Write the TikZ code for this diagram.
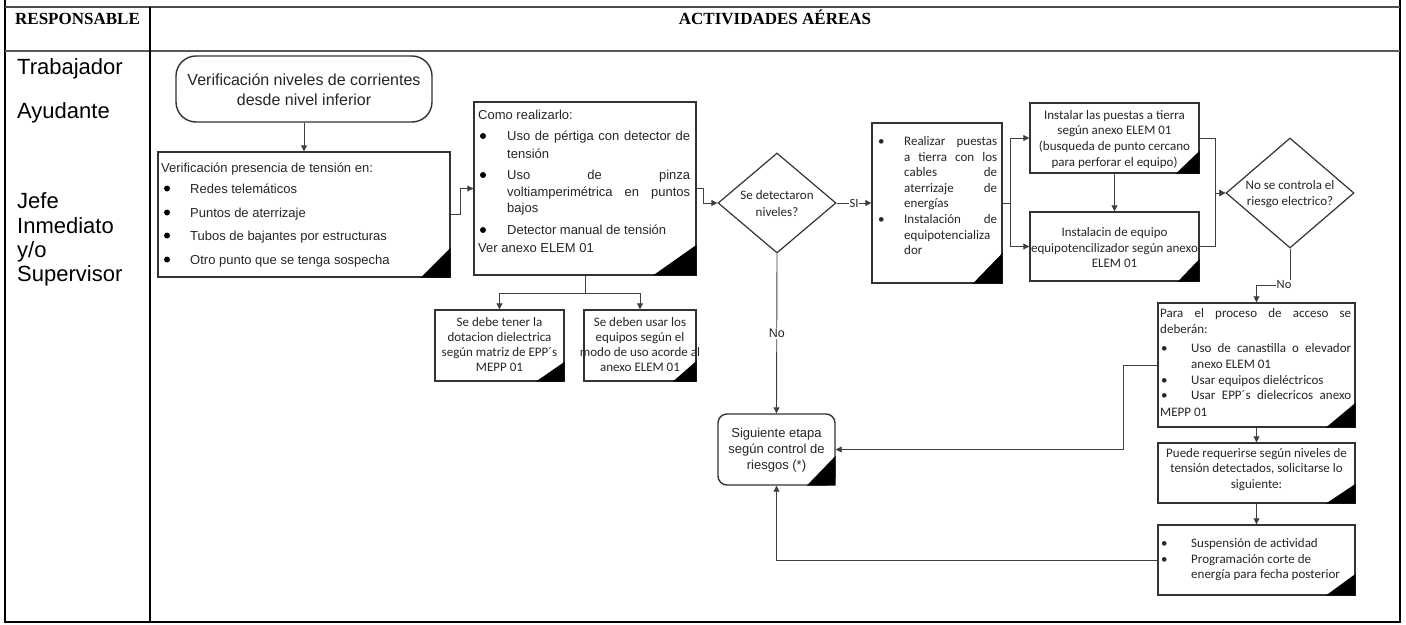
\documentclass[tikz,border=0pt]{standalone}
\usepackage{fontspec}
\setmainfont{Liberation Sans}
\newfontfamily\arialf{Liberation Sans}
\newfontfamily\calf{Carlito}
\newfontfamily\headf{Liberation Serif}
\usetikzlibrary{arrows.meta,shapes.geometric}

% a line stretched to a given width (justified text)
\newcommand{\jline}[2]{\makebox[#1pt][s]{#2}}
% black corner triangle in the lower right of a box
\newcommand{\ctri}[3]{\fill[black] (#1.south east) -- ++(-#2,0) -- ++(#2,-#3) -- cycle;}

\begin{document}
\begin{tikzpicture}[x=1pt,y=-1pt,
  box/.style={draw=black!80, line width=1.4pt, fill=white, inner sep=0pt, rectangle},
  dia/.style={draw=black!80, line width=1.2pt, fill=white, inner sep=0pt, diamond},
  arr/.style={draw=black!75, line width=0.9pt, -{Triangle[length=6pt,width=6pt]}},
  conn/.style={draw=black!75, line width=0.9pt},
  lbl/.style={fill=white, inner sep=1pt, text=black!85, font=\calf\fontsize{12.5}{14}\selectfont},
  albl/.style={fill=white, inner sep=1pt, text=black!85, font=\arialf\fontsize{12.5}{14}\selectfont},
  bul/.style={circle, fill=black, inner sep=0pt, minimum size=6pt},
  ar/.style={inner sep=0pt, text=black!85, font=\arialf\fontsize{13}{15}\selectfont},
  ca/.style={inner sep=0pt, text=black!85, font=\calf\fontsize{13}{15}\selectfont},
  role/.style={inner sep=0pt, anchor=base west, font=\arialf\fontsize{22}{24}\selectfont},
  head/.style={inner sep=0pt, anchor=base, font=\headf\bfseries\fontsize{17}{20}\selectfont}]
\useasboundingbox (0,0) rectangle (1406,624);

% ---- table frame ----
\draw[line width=1.3pt] (5,0) -- (5,622) -- (1400,622) -- (1400,0);
\draw[line width=1.5pt, black!70] (5,7) -- (1400,7);
\draw[line width=2pt, black!65] (5,51) -- (1400,51);
\draw[line width=1.3pt] (150,7) -- (150,622);

\node[head] (hresp) at (77.5,24) {RESPONSABLE};
\node[head] (hact) at (775,24) {ACTIVIDADES AÉREAS};

% ---- responsible roles ----
\node[role] (rtrab) at (17,74) {Trabajador};
\node[role] (rayud) at (17,118) {Ayudante};
\node[role] (rjefe) at (17,208) {Jefe};
\node[role] (rinm) at (17,233) {Inmediato};
\node[role] (ryo) at (17,257) {y/o};
\node[role] (rsup) at (17,281) {Supervisor};

% ---- shapes ----
\node[box, rounded corners=20pt, minimum width=256pt, minimum height=66pt] (start) at (304,89) {};
\node[box, minimum width=292pt, minimum height=125pt] (b2) at (304,214.5) {};
\node[box, minimum width=222pt, minimum height=173pt] (b3) at (585,188.5) {};
\node[box, minimum width=129pt, minimum height=71pt] (bA) at (499.5,345.5) {};
\node[box, minimum width=112pt, minimum height=71pt] (bB) at (640,345.5) {};
\node[dia, minimum width=118pt, minimum height=100pt] (d1) at (777,203) {};
\node[box, minimum width=130pt, minimum height=160pt] (b4) at (937,203) {};
\node[box, minimum width=169pt, minimum height=70pt] (b5) at (1114.5,138) {};
\node[box, minimum width=169pt, minimum height=69pt] (b6) at (1114.5,246.5) {};
\node[dia, minimum width=128pt, minimum height=110pt] (d2) at (1290,193) {};
\node[box, minimum width=197pt, minimum height=124pt] (b7) at (1256.5,365) {};
\node[box, minimum width=197pt, minimum height=60pt] (b8) at (1256.5,473) {};
\node[box, minimum width=197pt, minimum height=70pt] (b9) at (1256.5,560) {};
\node[box, rounded corners=9pt, minimum width=117pt, minimum height=71pt] (sig) at (776.5,449.5) {};

% corner marks
\ctri{b2}{30}{30}
\ctri{b3}{44}{31}
\ctri{bA}{29}{20}
\ctri{bB}{24}{21}
\ctri{b4}{30}{31}
\ctri{b5}{24}{23}
\ctri{b6}{22}{23}
\ctri{b7}{30}{25}
\ctri{b8}{30}{20}
\ctri{b9}{30}{22}
\ctri{sig}{29}{30}

% ---- connectors ----
\draw[arr] (start.south) -- (b2.north);
\draw[arr] (b2.east) -- ++(10,0) |- (b3.west);
\draw[arr] (b3.east) -- ++(7,0) |- (d1.west);
\draw[conn] (b3.south) -- ++(0,18) coordinate (split);
\draw[arr] (split) -| (bA.north);
\draw[arr] (split) -| (bB.north);
\draw[arr] (d1.east) -- node[lbl] (lsi) {SI} (b4.west);
\draw[arr] (d1.south) -- node[albl] (lno1) {No} (sig.north);
\draw[conn] (b4.east) -- ++(8,0) coordinate (fork);
\draw[arr] (fork) |- (b5.west);
\draw[arr] (fork) |- (b6.west);
\draw[arr] (b5.south) -- (b6.north);
\draw[arr] (b5.east) -- ++(16,0) |- (d2.west);
\draw[arr] (b6.east) -- ++(16,0) |- (d2.west);
\draw[arr] (d2.south) -- ++(0,37) node[lbl, xshift=-6pt, yshift=1pt] (lno2) {No} -| (b7.north);
\draw[arr] (b7.south) -- (b8.north);
\draw[arr] (b8.south) -- (b9.north);
\draw[arr] (b7.west) -- ++(-34,0) |- (sig.east);
\draw[arr] (b9.west) -| (sig.south);

% ---- texts ----
\node[ar, anchor=base, font=\arialf\fontsize{16}{18}\selectfont] (st1) at (304,85.5) {Verificación niveles de corrientes};
\node[ar, anchor=base, font=\arialf\fontsize{16}{18}\selectfont] (st2) at (304,105.5) {desde nivel inferior};

\node[ar, anchor=base west] (b2t0) at (161,172) {Verificación presencia de tensión en:};
\foreach \yy/\tx [count=\i] in {193/Redes telemáticos, 217/Puntos de aterrizaje,
    240/Tubos de bajantes por estructuras, 264/Otro punto que se tenga sospecha}{
  \node[bul] (b2d\i) at (167,\yy-4.5) {};
  \node[ar, anchor=base west] (b2t\i) at (190,\yy) {\tx};
}

\node[ar, anchor=base west] (b3t0) at (478,119.5) {Como realizarlo:};
\node[bul] (b3d1) at (483,136) {};
\node[ar, anchor=base west] (b3t1) at (507,140.5) {\jline{183}{Uso de pértiga con detector de}};
\node[ar, anchor=base west] (b3t2) at (507,158.5) {tensión};
\node[bul] (b3d2) at (483,175) {};
\node[ar, anchor=base west] (b3t3) at (507,179.5) {\jline{183}{Uso de pinza}};
\node[ar, anchor=base west] (b3t4) at (507,196.5) {\jline{183}{voltiamperimétrica en puntos}};
\node[ar, anchor=base west] (b3t5) at (507,212.5) {bajos};
\node[bul] (b3d3) at (483,230) {};
\node[ar, anchor=base west] (b3t6) at (507,234.5) {Detector manual de tensión};
\node[ar, anchor=base west] (b3t7) at (478,252.5) {Ver anexo ELEM 01};

\foreach \yy/\tx [count=\i] in {326/Se debe tener la, 341/dotacion dielectrica,
    356/según matriz de EPP´s, 371/MEPP 01}{
  \node[ca, anchor=base] (bAt\i) at (499.5,\yy) {\tx};
}
\foreach \yy/\tx [count=\i] in {326/Se deben usar los, 341/equipos según el,
    356/modo de uso acorde al, 371/anexo ELEM 01}{
  \node[ca, anchor=base] (bBt\i) at (640,\yy) {\tx};
}

\node[ca, anchor=base] (d1t1) at (777,199.5) {Se detectaron};
\node[ca, anchor=base] (d1t2) at (777,216.5) {niveles?};

\node[ca, anchor=base west] (b4d1) at (878,145.5) {•};
\node[ca, anchor=base west] (b4t1) at (904,145.5) {\jline{93}{Realizar puestas}};
\node[ca, anchor=base west] (b4t2) at (904,161) {\jline{93}{a tierra con los}};
\node[ca, anchor=base west] (b4t3) at (904,176.5) {\jline{93}{cables de}};
\node[ca, anchor=base west] (b4t4) at (904,192) {\jline{93}{aterrizaje de}};
\node[ca, anchor=base west] (b4t5) at (904,207.5) {energías};
\node[ca, anchor=base west] (b4d2) at (878,223) {•};
\node[ca, anchor=base west] (b4t6) at (904,223) {\jline{93}{Instalación de}};
\node[ca, anchor=base west] (b4t7) at (904,239) {equipotencializa};
\node[ca, anchor=base west] (b4t8) at (904,254.5) {dor};

\foreach \yy/\tx [count=\i] in {119/Instalar las puestas a tierra, 134/según anexo ELEM 01,
    150/(busqueda de punto cercano, 166/para perforar el equipo)}{
  \node[ca, anchor=base] (b5t\i) at (1114.5,\yy) {\tx};
}
\foreach \yy/\tx [count=\i] in {236/Instalacin de equipo, 252/equipotencilizador según anexo,
    267/ELEM 01}{
  \node[ca, anchor=base] (b6t\i) at (1114.5,\yy) {\tx};
}

\node[ca, anchor=base] (d2t1) at (1290,189) {No se controla el};
\node[ca, anchor=base] (d2t2) at (1290,205) {riesgo electrico?};

\node[ca, anchor=base west] (b7t1) at (1160,317) {\jline{191}{Para el proceso de acceso se}};
\node[ca, anchor=base west] (b7t2) at (1160,333) {deberán:};
\node[ca, anchor=base west] (b7d1) at (1161,352) {•};
\node[ca, anchor=base west] (b7t3) at (1191,352) {\jline{160}{Uso de canastilla o elevador}};
\node[ca, anchor=base west] (b7t4) at (1191,368) {anexo ELEM 01};
\node[ca, anchor=base west] (b7d2) at (1161,384) {•};
\node[ca, anchor=base west] (b7t5) at (1191,384) {Usar equipos dieléctricos};
\node[ca, anchor=base west] (b7d3) at (1161,399) {•};
\node[ca, anchor=base west] (b7t6) at (1191,399) {\jline{160}{Usar EPP´s dielecricos anexo}};
\node[ca, anchor=base west] (b7t7) at (1160,416) {MEPP 01};

\foreach \yy/\tx [count=\i] in {457/Puede requerirse según niveles de,
    472/{tensión detectados, solicitarse lo}, 488/siguiente:}{
  \node[ca, anchor=base] (b8t\i) at (1256.5,\yy) {\tx};
}

\node[ca, anchor=base west] (b9d1) at (1161,547) {•};
\node[ca, anchor=base west] (b9t1) at (1191,547) {Suspensión de actividad};
\node[ca, anchor=base west] (b9d2) at (1161,563) {•};
\node[ca, anchor=base west] (b9t2) at (1191,563) {Programación corte de};
\node[ca, anchor=base west] (b9t3) at (1191,578) {energía para fecha posterior};

\node[ar, anchor=base] (sgt1) at (776.5,437.5) {Siguiente etapa};
\node[ar, anchor=base] (sgt2) at (776.5,453.5) {según control de};
\node[ar, anchor=base] (sgt3) at (776.5,469.5) {riesgos (*)};
\end{tikzpicture}
\end{document}
